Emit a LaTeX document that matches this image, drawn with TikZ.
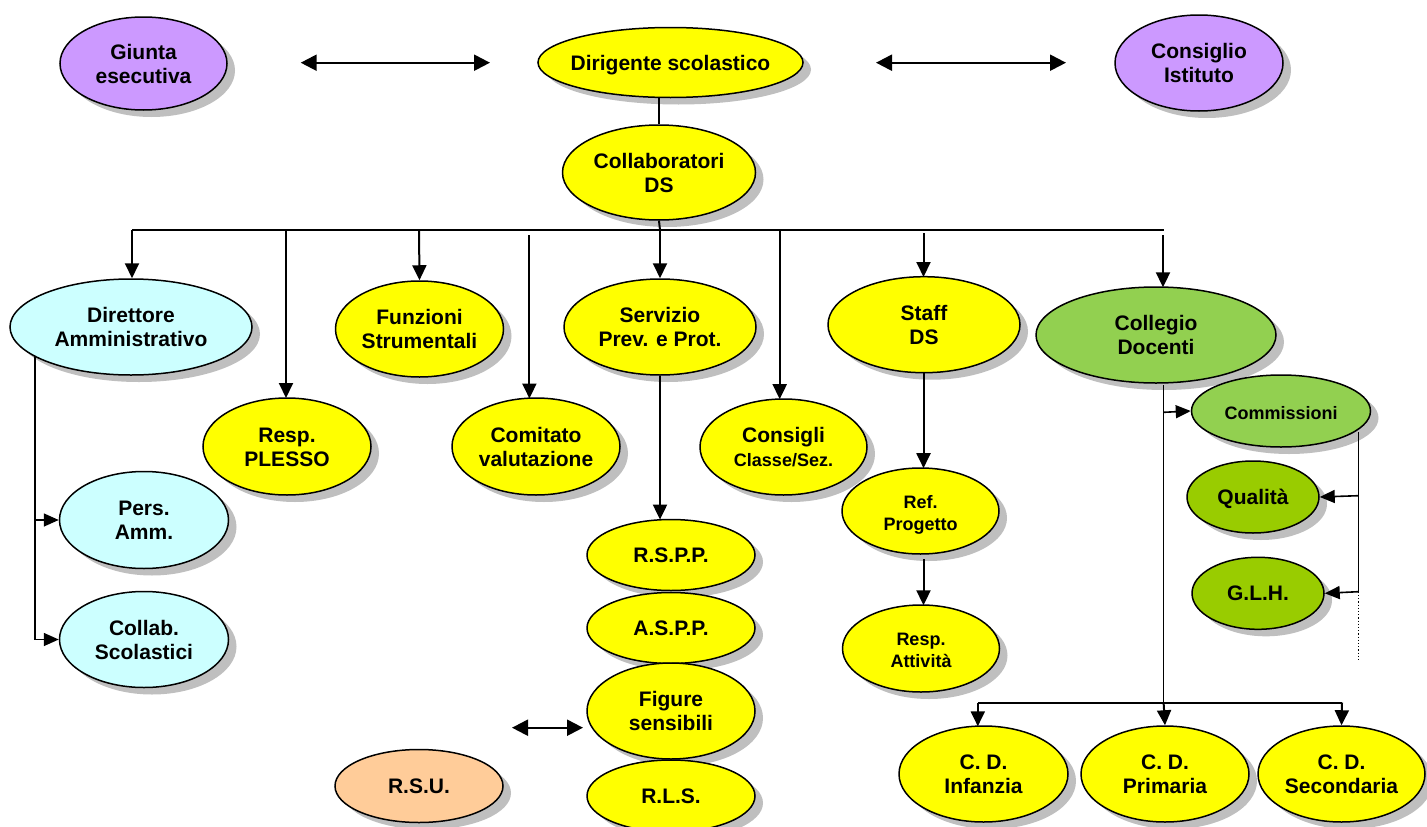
\documentclass[tikz,border=0pt]{standalone}
\usepackage{fontspec}
\setmainfont{Liberation Sans}
\usetikzlibrary{shapes.geometric,arrows.meta,shadows}
\definecolor{lila}{HTML}{CC99FF}
\definecolor{giallo}{HTML}{FFFF00}
\definecolor{ciano}{HTML}{CCFFFF}
\definecolor{verde}{HTML}{92D050}
\definecolor{verdescuro}{HTML}{99CC00}
\definecolor{pesca}{HTML}{FFCC99}
\definecolor{ombra}{HTML}{BFBFBF}
\newcommand{\tx}[1]{\makebox[0pt]{\raisebox{-8pt}[0pt][0pt]{\begin{tabular}{@{}c@{}}#1\end{tabular}}}}
\newcommand{\piccolo}{\fontsize{18}{22}\selectfont}
\begin{document}
\begin{tikzpicture}[x=1pt,y=-1pt,
  ell/.style={ellipse, draw=black, line width=1.5pt, inner sep=0pt,
    font=\bfseries\fontsize{21}{24}\selectfont,
    drop shadow={shadow xshift=8pt, shadow yshift=-7pt, fill=ombra, draw=none, opacity=1}},
  ellsmall/.style={ell, font=\bfseries\fontsize{18}{22}\selectfont},
  sz/.style 2 args={minimum width=#1pt, minimum height=#2pt},
  arr/.style={-{Triangle[length=15pt,width=14pt]}, line width=2pt},
  arrthin/.style={-{Triangle[length=15pt,width=13pt]}, line width=1.6pt},
  dbl/.style={{Triangle[length=16pt,width=16pt]}-{Triangle[length=16pt,width=16pt]}, line width=2.2pt},
  ln/.style={line width=2pt},
  lnthin/.style={line width=1.4pt}]
\useasboundingbox (0,0) rectangle (1427,827);

% top row
\node[ell, sz={167}{93}, fill=lila] (gi) at (143.5,63.5) {\tx{Giunta\\esecutiva}};
\node[ell, sz={168}{96}, fill=lila] (ci) at (1199,63) {\tx{Consiglio\\Istituto}};
\node[ell, sz={265}{70}, fill=giallo] (di) at (670.5,62.5) {\tx{Dirigente scolastico}};
\node[ell, sz={193}{95}, fill=giallo] (co) at (659,172.5) {\tx{Collaboratori\\DS}};

% second row
\node[ell, sz={242}{96}, fill=ciano] (dam) at (131,327) {\tx{Direttore\\Amministrativo}};
\node[ell, sz={168}{97}, fill=giallo] (rp) at (287,446.5) {\tx{Resp.\\PLESSO}};
\node[ell, sz={168}{96}, fill=giallo] (fs) at (419.5,329) {\tx{Funzioni\\Strumentali}};
\node[ell, sz={168}{97}, fill=giallo] (cv) at (536,446.5) {\tx{Comitato\\valutazione}};
\node[ell, sz={192}{96}, fill=giallo] (sp) at (660,327) {\tx{Servizio\\Prev. e Prot.}};
\node[ell, sz={167}{96}, fill=giallo] (cc) at (783.5,447) {\tx{Consigli\\{\piccolo Classe/Sez.}}};
\node[ell, sz={192}{96}, fill=giallo] (st) at (924,324.7) {\tx{Staff\\DS}};
\node[ell, sz={240}{96}, fill=verde] (cd) at (1156,335) {\tx{Collegio\\Docenti}};

% Collegio sub
\node[ellsmall, sz={179}{72}, fill=verde] (cm) at (1281,411) {\tx{Commissioni}};
\node[ell, sz={132}{72}, fill=verdescuro] (qu) at (1253,497) {\tx{Qualità}};
\node[ell, sz={132}{72}, fill=verdescuro] (gl) at (1258,593.3) {\tx{G.L.H.}};

% Staff sub
\node[ellsmall, sz={157}{86}, fill=giallo] (rf) at (920.5,511) {\tx{Ref.\\Progetto}};
\node[ellsmall, sz={157}{87}, fill=giallo] (ra) at (921,648.5) {\tx{Resp.\\Attività}};

% Direttore sub
\node[ell, sz={169}{97}, fill=ciano] (pa) at (144,520) {\tx{Pers.\\Amm.}};
\node[ell, sz={169}{96}, fill=ciano] (cs) at (144,639.5) {\tx{Collab.\\Scolastici}};

% Servizio sub
\node[ell, sz={168}{71}, fill=giallo] (rs) at (671,555) {\tx{R.S.P.P.}};
\node[ell, sz={168}{71}, fill=giallo] (as) at (671,628) {\tx{A.S.P.P.}};
\node[ell, sz={168}{96}, fill=giallo] (fg) at (671,711) {\tx{Figure\\sensibili}};
\node[ell, sz={168}{72}, fill=giallo] (rl) at (671,796) {\tx{R.L.S.}};
\node[ell, sz={168}{73}, fill=pesca] (ru) at (419,786) {\tx{R.S.U.}};

% C.D.
\node[ell, sz={169}{96}, fill=giallo] (cd1) at (983.5,774) {\tx{C. D.\\Infanzia}};
\node[ell, sz={168}{96}, fill=giallo] (cd2) at (1165,774) {\tx{C. D.\\Primaria}};
\node[ell, sz={167}{96}, fill=giallo] (cd3) at (1341.5,774) {\tx{C. D.\\Secondaria}};

% free-end coordinates
\coordinate (aL1) at (300.7,62.7);
\coordinate (aL2) at (490,62.7);
\coordinate (aR1) at (876,62.7);
\coordinate (aR2) at (1066,62.7);
\coordinate (busL) at (132,230);
\coordinate (busR) at (1163.6,230);
\coordinate (dlTop) at (35,356);
\coordinate (dlBot) at (35,639.5);
\coordinate (cdTop) at (1163.6,385);
\coordinate (cdBot) at (1163.6,702.7);
\coordinate (cbL) at (977.8,702.7);
\coordinate (cbR) at (1342,702.7);
\coordinate (cmTop) at (1358.3,432);
\coordinate (cmBot) at (1358.3,591.7);
\coordinate (cmDot) at (1358.3,661.7);
\coordinate (fa1) at (512,727.7);
\coordinate (fa2) at (583,727.7);

% top arrows
\draw[dbl] (aL1) -- (aL2);
\draw[dbl] (aR1) -- (aR2);
\draw[lnthin] (co.north |- di.south) -- (co.north);

% bus
\draw[ln] (co.south) -- (660,230);
\draw[ln] (busL) -- (busR);
\draw[arr] (busL) -- (busL |- dam.north);
\draw[arr] (286,230) -- (286,398);
\draw[arr] (419,230) -- (fs.north);
\draw[arr] (529.4,235) -- (529.4,398.5);
\draw[arr] (660,230) -- (sp.north);
\draw[arr] (779.7,230) -- (779.7,399.2);
\draw[arr] (923.5,233) -- (923.5,277);
\draw[arr] (1163,235) -- (1163,287.3);

% Direttore branch
\draw[lnthin] (dlTop) -- (dlBot);
\draw[arrthin] (35,520) -- (pa.west);
\draw[arrthin] (dlBot) -- (cs.west);

% Servizio branch
\draw[arr] (sp.south) -- (660,519.6);
\draw[dbl] (fa1) -- (fa2);

% Staff branch
\draw[arr] (923.5,373) -- (923.5,468.2);
\draw[arr] (923.5,559) -- (923.5,605.3);

% Collegio branch
\draw[lnthin] (cdTop) -- (cdBot);
\draw[arrthin] (1163.6,412.3) -- (cm.west);
\draw[ln] (cbL) -- (cbR);
\draw[arr] (cbL) -- (977.8,726.3);
\draw[arr] (cdBot) -- (cd2.north);
\draw[arr] (cbR) -- (cd3.north);
\draw[lnthin] (cmTop) -- (cmBot);
\draw[arrthin] (1358.3,495.7) -- (qu.east);
\draw[arrthin] (cmBot) -- (gl.east);
\draw[line width=1.2pt, dotted] (cmBot) -- (cmDot);
\end{tikzpicture}
\end{document}
